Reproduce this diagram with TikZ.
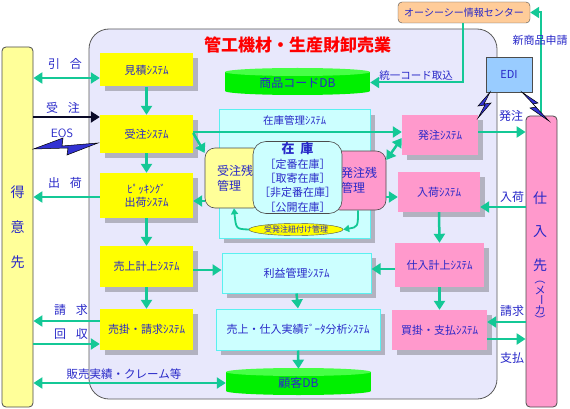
\documentclass[tikz,border=0pt]{standalone}
\usepackage{fontspec}
\setmainfont{Noto Sans CJK JP}
\usetikzlibrary{arrows.meta,shapes.geometric,shadows}

\definecolor{txtblue}{RGB}{40,40,200}
\definecolor{arrgreen}{RGB}{20,200,150}
\definecolor{sysyellow}{RGB}{255,255,0}
\definecolor{paleyellow}{RGB}{255,255,153}
\definecolor{syspink}{RGB}{255,153,204}
\definecolor{syscyan}{RGB}{204,255,255}
\definecolor{cyanline}{RGB}{90,240,240}
\definecolor{dbgreen}{RGB}{0,240,0}
\definecolor{dblight}{RGB}{70,255,70}
\definecolor{shadowgray}{RGB}{178,178,192}
\definecolor{mainlav}{RGB}{232,232,252}
\definecolor{occorange}{RGB}{255,204,153}
\definecolor{ediblue}{RGB}{153,204,255}
\definecolor{boltblue}{RGB}{50,50,210}
\definecolor{darkarrow}{RGB}{10,10,40}

\begin{document}
\begin{tikzpicture}[x=1pt, y=-1pt, every node/.style={font=\fontsize{11}{13}\selectfont, text=txtblue, inner sep=0pt},
  shadowed/.style={general shadow={fill=shadowgray, shadow xshift=5pt, shadow yshift=-5pt}},
  ysys/.style={fill=sysyellow, shadowed},
  psys/.style={fill=syspink, shadowed},
  csys/.style={fill=syscyan, draw=cyanline, line width=1pt, shadowed},
  zanbox/.style={draw=gray!60!black, line width=0.6pt, rounded corners=10pt},
  column/.style={draw=gray!60!black, line width=0.8pt, rounded corners=4pt},
  flowtxt/.style={font=\fontsize{12}{14}\selectfont},
  vchar/.style={font=\fontsize{14}{16}\selectfont},
  garrow/.style={arrgreen, line width=2.5pt, -{Triangle[length=9pt,width=11pt]}},
  gboth/.style={arrgreen, line width=2.5pt, {Triangle[length=9pt,width=11pt]}-{Triangle[length=9pt,width=11pt]}},
  thinarrow/.style={arrgreen, line width=1.8pt, -{Triangle[length=6pt,width=7pt]}},
  bolt/.style={fill=boltblue, draw=black, line width=0.5pt, line join=miter}]
\useasboundingbox (0,0) rectangle (570,409);

% company frame
\draw[fill=mainlav, draw=gray!70!black, line width=0.8pt, rounded corners=20pt] (89,29) rectangle (497,399);
\node[font=\bfseries\fontsize{17}{19}\selectfont, text=red] (title) at (297.5,45) {管工機材・生産財卸売業};

% customer / maker columns
\node[column, fill=paleyellow, minimum width=31, minimum height=360] (tokui) at (17.5,227) {};
\node[vchar, align=center, font=\fontsize{14}{35}\selectfont] (tokuitxt) at (17.5,227) {得\\意\\先};
\node[column, fill=syspink, minimum width=31, minimum height=291] (shiire) at (541.5,261.5) {};
\foreach \c/\y/\n in {仕/198/a, 入/232/b, 先/265/c}
  \node[vchar] (mk\n) at (540,\y) {\c};
\foreach \c/\y/\n in {メ/290/e, カ/310/g}
  \node (mk\n) at (540,\y) {\c};
\foreach \c/\y/\n in {（/279/d, ー/300/f, ）/320/h}
  \node[rotate=-90] (mk\n) at (540,\y) {\c};

% information center and EDI
\node[draw=gray!60!black, fill=occorange, rounded corners=4pt, minimum width=132, minimum height=21,
  font=\fontsize{10}{12}\selectfont] (occ) at (464,12.5) {オーシーシー情報センター};
\node[draw=gray!60!black, fill=ediblue, minimum width=46, minimum height=35] (edi) at (509,74.5) {EDI};

% sales side systems
\node[ysys, minimum width=93, minimum height=33] (mitsumori) at (146.5,70) {見積ｼｽﾃﾑ};
\node[ysys, minimum width=93, minimum height=38] (juchu) at (146.5,134) {受注ｼｽﾃﾑ};
\node[ysys, minimum width=93, minimum height=45, align=center] (picking) at (146.5,195.5) {ﾋﾟｯｷﾝｸﾞ\\出荷ｼｽﾃﾑ};
\node[ysys, minimum width=93, minimum height=41] (uriage) at (146.5,266.5) {売上計上ｼｽﾃﾑ};
\node[ysys, minimum width=93, minimum height=41] (urikake) at (146.5,329.5) {売掛・請求ｼｽﾃﾑ};

% stock control
\node[csys, minimum width=151, minimum height=128] (zkanri) at (294.5,174) {};
\node[font=\fontsize{10.5}{12}\selectfont] (zktitle) at (294.5,120) {在庫管理ｼｽﾃﾑ};
\node[zanbox, fill=paleyellow, minimum width=58, minimum height=60, align=center, font=\fontsize{12}{15}\selectfont,
  text width=34, align=left] (juchuzan) at (234,178) {受注残\\管理};
\node[zanbox, fill=syspink, minimum width=56, minimum height=59, font=\fontsize{12}{15}\selectfont,
  text width=34, align=left] (hatchuzan) at (358,180.5) {発注残\\管理};
\node[zanbox, fill=syscyan, rounded corners=13pt, minimum width=89, minimum height=72, align=center,
  font=\fontsize{11}{14.3}\selectfont] (zaiko) at (297.5,177.5) {\textbf{\fontsize{13}{15}\selectfont 在\hspace{6pt}庫}\\［定番在庫］\\［取寄在庫］\\［非定番在庫］\\［公開在庫］};
\node[ellipse, draw=gray!60!black, fill=sysyellow, minimum width=94, minimum height=12,
  font=\fontsize{8}{9}\selectfont] (himoduke) at (296,229.5) {受発注紐付け管理};

% purchase side systems
\node[psys, minimum width=76, minimum height=40] (hatchu) at (440,135) {発注ｼｽﾃﾑ};
\node[psys, minimum width=82, minimum height=40] (nyuka) at (439,192) {入荷ｼｽﾃﾑ};
\node[psys, minimum width=89, minimum height=44] (shiirekei) at (439.5,265) {仕入計上ｼｽﾃﾑ};
\node[psys, minimum width=95, minimum height=40] (kaikake) at (439.5,330) {買掛・支払ｼｽﾃﾑ};

% analysis systems
\node[csys, minimum width=149, minimum height=40] (rieki) at (296.5,273) {利益管理ｼｽﾃﾑ};
\node[csys, minimum width=164, minimum height=41] (bunseki) at (298,329.5) {売上・仕入実績ﾃﾞｰﾀ分析ｼｽﾃﾑ};

% databases
\foreach \cx/\cy in {297.5/81.5, 298.5/381.5} {
  \fill[dbgreen] (\cx-72.5,\cy-9.5) rectangle (\cx+72.5,\cy+9.5);
  \fill[dbgreen] (\cx,\cy+9.5) ellipse [x radius=72.5, y radius=4];
  \fill[dblight] (\cx,\cy-9.5) ellipse [x radius=72.5, y radius=4];
}
\node[minimum width=145, minimum height=27, font=\fontsize{12}{14}\selectfont] (shohindb) at (297.5,82.5) {商品コードDB};
\node[minimum width=145, minimum height=27, font=\fontsize{12}{14}\selectfont] (kokyakudb) at (298.5,382.5) {顧客DB};

% customer side flows
\draw[gboth] (tokui.east |- 0,78) -- (mitsumori.west |- 0,78);
\draw[darkarrow, line width=2.8pt, -{Triangle[length=9pt,width=11pt]}] (tokui.east |- 0,117) -- (juchu.west |- 0,117);
\draw[garrow] (picking.west |- 0,197) -- (tokui.east |- 0,197);
\draw[garrow] (urikake.west |- 0,321) -- (tokui.east |- 0,321);
\draw[garrow] (tokui.east |- 0,344) -- (urikake.west |- 0,344);
\draw[gboth] (tokui.east |- 0,383) -- (kokyakudb.west |- 0,383);
\draw[bolt] (tokui.east |- 0,149) -- (63,138) -- (62,146) -- (98,143) -- (67,155) -- (68,148) -- cycle;

% sales chain
\draw[garrow] (mitsumori.south) -- (juchu.north);
\draw[garrow] (juchu.south) -- (picking.north);
\draw[garrow] (picking.south) -- (uriage.north);
\draw[garrow] (uriage.south) -- (urikake.north);
\draw[garrow] (juchu.east |- 0,132) -- (hatchu.west |- 0,132);
\draw[garrow] (juchu.east |- 0,133) -- (juchuzan.west |- 0,153);
\draw[garrow] (juchuzan.west |- 0,201) -- (picking.east |- 0,201);
\draw[garrow] (uriage.east |- 0,270) -- (rieki.west |- 0,270);

% stock links
\draw[thinarrow] (himoduke.west) .. controls (236,229) .. (juchuzan.south);
\draw[thinarrow] (hatchuzan.south) .. controls (358,227) .. (himoduke.east);

% purchase chain
\draw[gboth] (hatchu.west |- 0,138) -- (hatchuzan.east |- 0,160);
\draw[garrow] (hatchuzan.east |- 0,197) -- (nyuka.west |- 0,197);
\draw[garrow] (hatchu.east |- 0,132) -- (shiire.west |- 0,132);
\draw[garrow] (shiire.west |- 0,207) -- (nyuka.east |- 0,207);
\draw[garrow] (nyuka.south) -- (shiirekei.north);
\draw[garrow] (shiirekei.west |- 0,269) -- (rieki.east |- 0,269);
\draw[garrow] (shiirekei.south) -- (kaikake.north);
\draw[garrow] (shiire.west |- 0,322) -- (kaikake.east |- 0,322);
\draw[garrow] (kaikake.east |- 0,339) -- (shiire.west |- 0,339);
\draw[garrow] (rieki.south) -- (bunseki.north);
\draw[garrow] (bunseki.south) -- (kokyakudb.north);

% information center links
\draw[garrow, line width=2pt] (occ.south -| 463,0) |- (shohindb.east);
\draw[garrow, line width=2pt] (shiire.north -| 541,0) |- (occ.east);
\draw[bolt] (edi.south -| 490,0) -- (478,106) -- (485,105) -- (478,118) -- (491,103) -- (484,104) -- cycle;
\draw[bolt] (edi.south -| 522,0) -- (538,103) -- (533,104) -- (549,121) -- (530,108) -- (536,107) -- cycle;

% flow labels
\node[flowtxt] (lhikiai) at (65,64) {引\hspace{10pt}合};
\node[flowtxt] (ljuchu) at (63,108) {受\hspace{10pt}注};
\node[flowtxt, font=\fontsize{12}{14}\selectfont\sffamily] (leos) at (62,133) {EOS};
\node[flowtxt] (lshukka) at (65,183) {出\hspace{10pt}荷};
\node[flowtxt] (lseikyu) at (71,310) {請\hspace{10pt}求};
\node[flowtxt] (lkaishu) at (71,334) {回\hspace{10pt}収};
\node[flowtxt, font=\fontsize{11.5}{14}\selectfont] (lhanbai) at (124,374) {販売実績・クレーム等};
\node[flowtxt] (lhatchu) at (511,116) {発注};
\node[flowtxt] (lnyuka) at (512,197) {入荷};
\node[flowtxt] (lseikyu2) at (512,311) {請求};
\node[flowtxt] (lshiharai) at (512,358) {支払};
\node[font=\fontsize{10.5}{12}\selectfont] (ltoitsu) at (416,76) {統一コード取込};
\node[font=\fontsize{11}{12}\selectfont] (lshinshohin) at (540,40) {新商品申請};
\end{tikzpicture}
\end{document}
